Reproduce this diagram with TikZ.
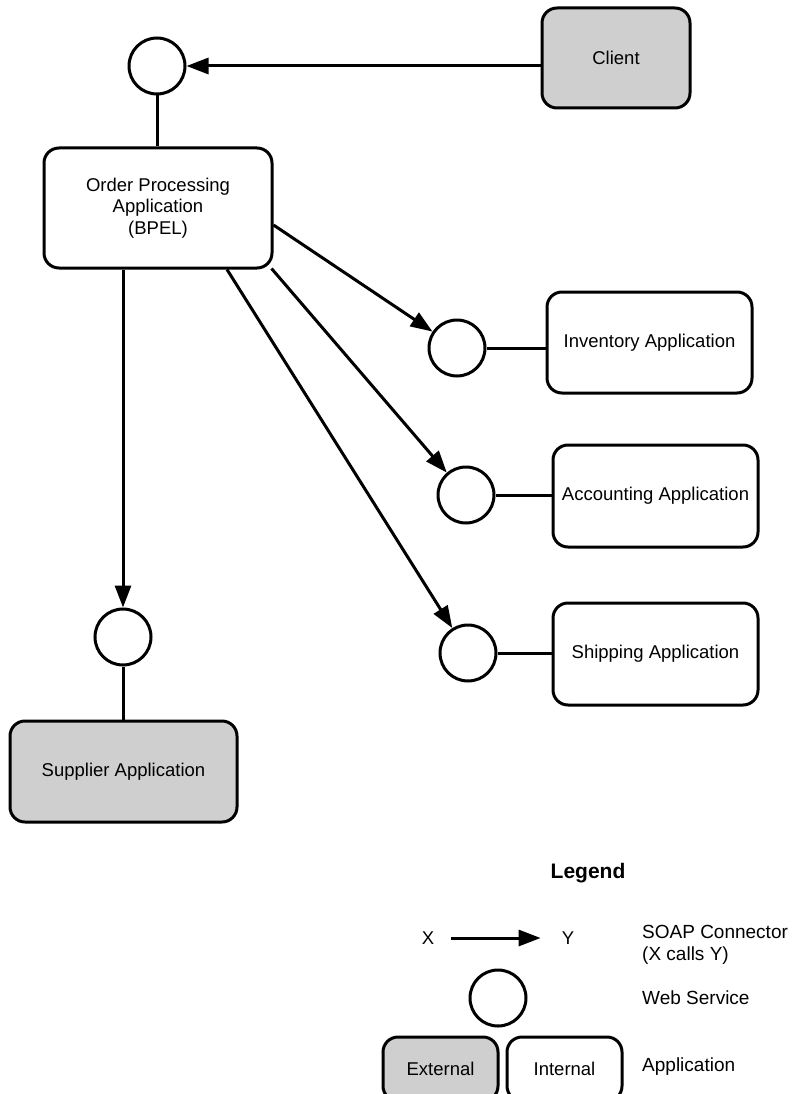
\documentclass[tikz,border=0pt]{standalone}
\usepackage{fontspec}
\setmainfont{Liberation Sans}
\usetikzlibrary{arrows.meta,backgrounds}
\definecolor{extgray}{RGB}{207,207,207}
\begin{document}
\begin{tikzpicture}[x=1pt,y=-1pt,
  every node/.style={font=\fontsize{18.5}{21.5}\selectfont},
  app/.style={draw, line width=3pt, rounded corners=15pt, fill=white, align=center, inner sep=0pt},
  ext/.style={app, fill=extgray},
  ws/.style={draw, circle, line width=3pt, fill=white, minimum size=56pt, inner sep=0pt},
  conn/.style={line width=3pt},
  arr/.style={conn, -{Triangle[length=22pt,width=16pt]}},
  lbl/.style={inner sep=0pt}
]
\useasboundingbox (0,0) rectangle (794,1094);

% main diagram
\node[ext, minimum width=148pt, minimum height=100pt] (client) at (616,58) {Client};
\node[ws] (c0) at (157,66) {};
\node[app, minimum width=228pt, minimum height=120pt] (order) at (158,208) {Order Processing\\Application\\(BPEL)};
\node[ws] (c1) at (457,348) {};
\node[app, minimum width=205pt, minimum height=101pt] (inv) at (649.5,342.5) {Inventory Application};
\node[ws] (c2) at (466,495) {};
\node[app, minimum width=205pt, minimum height=102pt] (acc) at (655.5,496) {Accounting Application};
\node[ws] (c3) at (468,653) {};
\node[app, minimum width=205pt, minimum height=102pt] (ship) at (655.5,654) {Shipping Application};
\node[ws] (c4) at (123,637) {};
\node[ext, minimum width=227pt, minimum height=101pt] (sup) at (123.5,771.5) {Supplier Application};

% legend
\node[font=\bfseries\fontsize{21}{24}\selectfont] (leg) at (588,873) {Legend};
\node[lbl] (X) at (428,938) {X};
\node[lbl] (Y) at (568,938) {Y};
\node[ws] (lc) at (498,998) {};
\node[ext, minimum width=115pt, minimum height=64pt] (lext) at (440.5,1069) {External};
\node[app, minimum width=115pt, minimum height=64pt] (lint) at (564.5,1069) {Internal};
\node[lbl, anchor=west, align=left, font=\fontsize{19}{22}\selectfont] (d1) at (642,945) {SOAP Connector\\(X calls Y)};
\node[lbl, anchor=west, font=\fontsize{19}{22}\selectfont] (d2) at (642,998) {Web Service};
\node[lbl, anchor=west, font=\fontsize{19}{22}\selectfont] (d3) at (642,1067) {Application};

\begin{scope}[on background layer]
\draw[arr] (client.west |- c0) -- (c0);
\draw[conn] (c0) -- (c0 |- order.north);
\draw[arr] ([yshift=-17pt]order.east) -- (c1);
\draw[arr] ([xshift=-2pt,yshift=1pt]order.south east) -- (c2);
\draw[arr] ([xshift=69pt]order.south) -- (c3);
\draw[arr] (c4 |- order.south) -- (c4);
\draw[conn] (c4) -- (c4 |- sup.north);
\draw[conn] (c1) -- (c1 -| inv.west);
\draw[conn] (c2) -- (c2 -| acc.west);
\draw[conn] (c3) -- (c3 -| ship.west);
\draw[arr, shorten <=17pt, shorten >=21pt] (X) -- (Y);
\end{scope}
\end{tikzpicture}
\end{document}
